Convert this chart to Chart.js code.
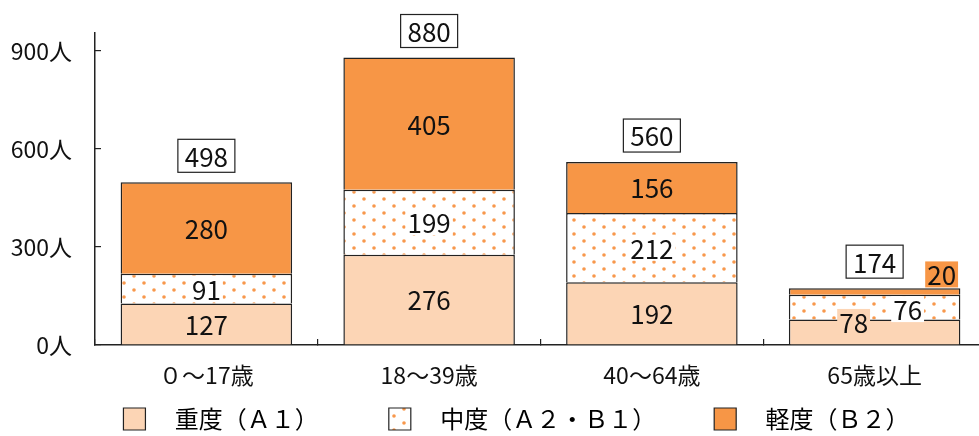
<!DOCTYPE html>
<html>
<head>
<meta charset="utf-8">
<script src="https://cdn.jsdelivr.net/npm/chart.js@4.4.1/dist/chart.umd.min.js"></script>
<style>
  html, body { margin: 0; padding: 0; overflow: hidden; background: #fff; }
  #wrap { width: 987px; height: 436px; }
</style>
</head>
<body>
<div id="wrap"><canvas id="chart"></canvas></div>
<script>
// data
const categories = ['０～17歳', '18～39歳', '40～64歳', '65歳以上'];
const severeA1 = [127, 276, 192, 78];
const moderateA2B1 = [91, 199, 212, 76];
const mildB2 = [280, 405, 156, 20];
const seriesLabels = ['重度（Ａ１）', '中度（Ａ２・Ｂ１）', '軽度（Ｂ２）'];
const yTicks = [0, 300, 600, 900];

const FONT = "'Noto Sans CJK JP', 'Noto Sans', sans-serif";
const PEACH = '#FCD5B5';
const ORANGE = '#F79646';
const LINE = '#222';

// dotted fill for the middle series
function makeDots() {
  const c = document.createElement('canvas');
  c.width = 20;
  c.height = 14;
  const g = c.getContext('2d');
  g.fillStyle = '#fff';
  g.fillRect(0, 0, 20, 14);
  g.fillStyle = '#F8984C';
  [[4, 3], [14, 10]].forEach(([x, y]) => {
    g.beginPath();
    g.arc(x, y, 1.8, 0, Math.PI * 2);
    g.fill();
  });
  return g.createPattern(c, 'repeat');
}
const dots = makeDots();

// label nudges for the crowded last bar (dataset-index)
const labelTweaks = {
  '0-3': { dx: -21, dy: -10, bg: PEACH },
  '1-3': { dx: 33, dy: 2, bg: '#fff' },
  '2-3': { dx: 67, dy: -17, bg: ORANGE }
};

const valueLabels = {
  id: 'valueLabels',
  afterDatasetsDraw(chart) {
    const ctx = chart.ctx;
    ctx.save();
    ctx.font = '26px ' + FONT;
    ctx.textAlign = 'center';
    ctx.textBaseline = 'middle';

    chart.data.datasets.forEach((ds, di) => {
      const meta = chart.getDatasetMeta(di);
      meta.data.forEach((bar, i) => {
        const tw = labelTweaks[di + '-' + i] || {};
        const x = bar.x + (tw.dx || 0);
        const y = (bar.y + bar.base) / 2 + (tw.dy || 0);
        const text = String(ds.data[i]);
        const bg = tw.bg || (di === 1 ? '#fff' : null);
        if (bg) {
          const w = ctx.measureText(text).width + 4;
          ctx.fillStyle = bg;
          ctx.fillRect(x - w / 2, y - 13, w, 26);
        }
        ctx.fillStyle = '#111';
        ctx.fillText(text, x, y + 1);
      });
    });

    // totals in boxes above each stack
    const top = chart.getDatasetMeta(chart.data.datasets.length - 1);
    top.data.forEach((bar, i) => {
      const total = severeA1[i] + moderateA2B1[i] + mildB2[i];
      const w = 57, h = 33;
      const bx = bar.x - w / 2;
      const by = bar.y - 10 - h;
      ctx.fillStyle = '#fff';
      ctx.fillRect(bx, by, w, h);
      ctx.strokeStyle = LINE;
      ctx.lineWidth = 1.2;
      ctx.strokeRect(bx, by, w, h);
      ctx.fillStyle = '#111';
      ctx.fillText(String(total), bar.x, by + h / 2 + 1);
    });
    ctx.restore();
  }
};

const barStyle = {
  borderColor: LINE,
  borderWidth: 1.5,
  barPercentage: 0.77,
  categoryPercentage: 1
};

// spacing strings only shape the legend layout
const legendLead = '\u2002 ';
const legendTail = ['　　　', '　　\u2002', '　　\u2002'];

new Chart(document.getElementById('chart'), {
  type: 'bar',
  data: {
    labels: categories,
    datasets: [
      { label: seriesLabels[0], data: severeA1, backgroundColor: PEACH, ...barStyle },
      { label: seriesLabels[1], data: moderateA2B1, backgroundColor: dots, ...barStyle },
      { label: seriesLabels[2], data: mildB2, backgroundColor: ORANGE, ...barStyle }
    ]
  },
  options: {
    responsive: true,
    maintainAspectRatio: false,
    animation: false,
    layout: {
      padding: { top: 33, left: 0, right: 1, bottom: -5 }
    },
    plugins: {
      tooltip: { enabled: false },
      legend: {
        position: 'bottom',
        fullSize: false,
        labels: {
          font: { family: FONT, size: 24 },
          color: '#111',
          boxWidth: 22,
          boxHeight: 22,
          padding: 10,
          generateLabels(chart) {
            return chart.data.datasets.map((ds, i) => ({
              text: legendLead + ds.label + legendTail[i],
              fillStyle: ds.backgroundColor,
              strokeStyle: LINE,
              lineWidth: 1.2,
              datasetIndex: i
            }));
          }
        }
      }
    },
    scales: {
      x: {
        stacked: true,
        afterFit: s => {
          s.height = 52;
          s.paddingLeft = 0;
          s.paddingRight = 0;
        },
        grid: {
          drawOnChartArea: false,
          tickLength: -6,
          color: LINE,
          lineWidth: 1.2
        },
        border: { color: LINE, width: 1.5 },
        ticks: {
          font: { family: FONT, size: 23 },
          color: '#111',
          padding: 22
        }
      },
      y: {
        stacked: true,
        min: 0,
        max: 955,
        afterFit: s => {
          s.width = 95;
          s.paddingTop = 0;
          s.paddingBottom = 0;
        },
        afterBuildTicks: s => { s.ticks = yTicks.map(v => ({ value: v })); },
        grid: {
          drawOnChartArea: false,
          tickLength: -6,
          color: LINE,
          lineWidth: 1.2
        },
        border: { color: LINE, width: 1.5 },
        ticks: {
          font: { family: FONT, size: 23 },
          color: '#111',
          padding: 29,
          callback: v => v + '人'
        }
      }
    }
  },
  plugins: [valueLabels]
});
</script>
</body>
</html>
